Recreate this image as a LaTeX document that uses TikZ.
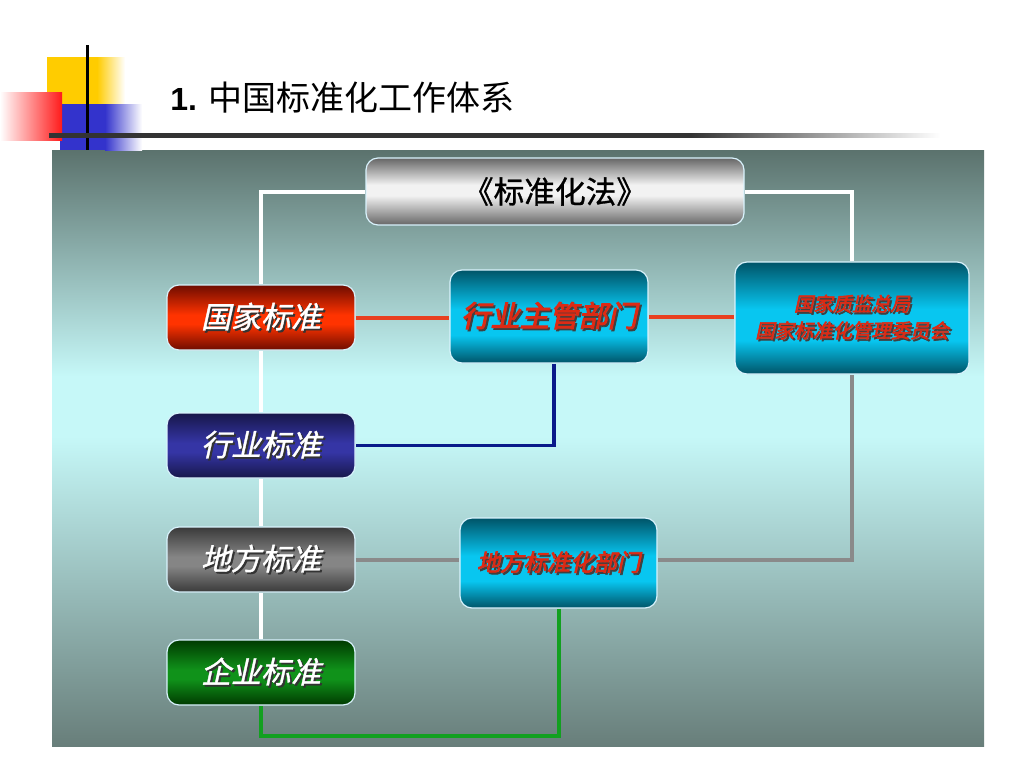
\documentclass[tikz,border=0pt]{standalone}
\usepackage{fontspec}
\newfontfamily\cjk{Noto Sans CJK SC}
\newfontfamily\cjkmb{Noto Sans CJK SC}[FakeBold=1]
\newfontfamily\cjkit{Noto Sans CJK SC}[FakeSlant=0.22, FakeBold=1.2]
\newfontfamily\cjkbi{Noto Sans CJK SC}[FakeSlant=0.22, FakeBold=3]
\newfontfamily\lat{Liberation Sans}
\usetikzlibrary{calc}
\definecolor{bgtop}{HTML}{5B726D}
\definecolor{bgmid}{HTML}{C6F8F8}
\definecolor{bgbot}{HTML}{687E7A}
\definecolor{tealdk}{HTML}{005468}
\definecolor{cyanbr}{HTML}{08C6F0}
\definecolor{reddk}{HTML}{6E0C00}
\definecolor{redbr}{HTML}{FF3300}
\definecolor{navydk}{HTML}{17174A}
\definecolor{navybr}{HTML}{3535A5}
\definecolor{graydk}{HTML}{3A3A3A}
\definecolor{graybr}{HTML}{858585}
\definecolor{greendk}{HTML}{003A00}
\definecolor{greenbr}{HTML}{10921A}
\definecolor{metdk}{HTML}{666666}
\definecolor{metbr}{HTML}{F2F2F2}
\definecolor{txtred}{HTML}{DC2A14}
\definecolor{lnred}{HTML}{E84020}
\definecolor{lnnavy}{HTML}{0A1A8A}
\definecolor{lngray}{HTML}{8A8A8A}
\definecolor{lngreen}{HTML}{12A020}
\definecolor{decoyel}{HTML}{FFCC00}
\definecolor{decoblue}{HTML}{3333CC}
\definecolor{decored}{HTML}{FF1A1A}
\definecolor{tline}{HTML}{333333}
% stops mapped into 25bp..75bp (the part that covers the path)
\pgfdeclareverticalshading{panelsh}{100bp}{color(0bp)=(bgbot); color(25bp)=(bgbot); color(51bp)=(bgmid); color(56bp)=(bgmid); color(75bp)=(bgtop); color(100bp)=(bgtop)}
\pgfdeclareverticalshading{cyansh}{100bp}{color(0bp)=(tealdk); color(25bp)=(tealdk); color(40bp)=(cyanbr); color(54bp)=(cyanbr); color(75bp)=(tealdk); color(100bp)=(tealdk)}
\pgfdeclareverticalshading{redsh}{100bp}{color(0bp)=(reddk); color(25bp)=(reddk); color(45bp)=(redbr); color(52bp)=(redbr); color(75bp)=(reddk); color(100bp)=(reddk)}
\pgfdeclareverticalshading{navysh}{100bp}{color(0bp)=(navydk); color(25bp)=(navydk); color(45bp)=(navybr); color(52bp)=(navybr); color(75bp)=(navydk); color(100bp)=(navydk)}
\pgfdeclareverticalshading{graysh}{100bp}{color(0bp)=(graydk); color(25bp)=(graydk); color(45bp)=(graybr); color(52bp)=(graybr); color(75bp)=(graydk); color(100bp)=(graydk)}
\pgfdeclareverticalshading{greensh}{100bp}{color(0bp)=(greendk); color(25bp)=(greendk); color(45bp)=(greenbr); color(52bp)=(greenbr); color(75bp)=(greendk); color(100bp)=(greendk)}
\pgfdeclareverticalshading{metsh}{100bp}{color(0bp)=(metdk); color(25bp)=(metdk); color(47bp)=(metbr); color(55bp)=(metbr); color(75bp)=(metdk); color(100bp)=(metdk)}
\pgfdeclarehorizontalshading{tlinesh}{100bp}{color(0bp)=(tline); color(25bp)=(tline); color(61bp)=(tline); color(75bp)=(white); color(100bp)=(white)}
\pgfdeclarelayer{bg}
\pgfdeclarelayer{lines}
\pgfsetlayers{bg,lines,main}
\newcommand{\shtext}[3]{\makebox[0pt][l]{\hspace{1.4pt}\raisebox{-1.4pt}{\color{#1}#3}}{\color{#2}#3}}
\tikzset{
  box/.style={rounded corners=9pt, draw=white!85!cyan, line width=0.9pt, inner sep=0pt, align=center},
  stdbox/.style={box, minimum width=141pt, minimum height=48.75pt, font=\cjkit\fontsize{22.5}{24}\selectfont},
  cyanbox/.style={box, shading=cyansh},
  wline/.style={draw=white, line width=3pt},
  rline/.style={draw=lnred, line width=3pt},
  nline/.style={draw=lnnavy, line width=2.6pt},
  gline/.style={draw=lngray, line width=3pt},
  grline/.style={draw=lngreen, line width=3pt}
}
\begin{document}
\begin{tikzpicture}[x=0.75pt,y=-0.75pt]
\useasboundingbox (0,0) rectangle (1024,768);
\begin{pgfonlayer}{bg}
\fill[white] (0,0) rectangle (1024,768);
\shade[shading=panelsh] (52,150) rectangle (984,746);
\end{pgfonlayer}
% decoration
\fill[decoyel] (47,57) rectangle (97,104);
\shade[left color=decoyel,right color=white] (97,57) rectangle (125,104);
\fill[decoblue] (60,104) rectangle (105,150);
\shade[left color=decoblue,right color=white] (105,104) rectangle (142,150);
\shade[left color=white,right color=decored] (0,92) rectangle (62,140);
\fill[black] (85.5,45) rectangle (89,150);
\shade[shading=tlinesh] (49,133) rectangle (940,137);
\node[anchor=west, inner sep=0pt] (title) at (170,98) {\lat\bfseries\fontsize{24}{28}\selectfont 1.\hspace{9pt}\cjk\mdseries\fontsize{25.5}{28}\selectfont 中国标准化工作体系};
% nodes
\node[box, shading=metsh, minimum width=283.5pt, minimum height=50.25pt, font=\cjkmb\fontsize{23}{26}\selectfont] (law) at (555,191.5) {\color{black}《标准化法》};
\node[stdbox, shading=redsh] (gj) at (261,317.5) {\shtext{black!80}{white}{国家标准}};
\node[stdbox, shading=navysh] (hy) at (261,445.5) {\shtext{black!80}{white}{行业标准}};
\node[stdbox, shading=graysh] (df) at (261,559.5) {\shtext{black!80}{white}{地方标准}};
\node[stdbox, shading=greensh] (qy) at (261,672.5) {\shtext{black!80}{white}{企业标准}};
\node[cyanbox, minimum width=148.5pt, minimum height=69.75pt, font=\cjkbi\fontsize{22}{24}\selectfont] (hyzg) at (549,316.5) {\shtext{black!75}{txtred}{行业主管部门}};
\node[cyanbox, minimum width=175.5pt, minimum height=84pt, font=\cjkbi\fontsize{14.5}{20}\selectfont] (zj) at (852,318) {\shtext{black!75}{txtred}{国家质监总局}\\\shtext{black!75}{txtred}{国家标准化管理委员会}};
\node[cyanbox, minimum width=147.75pt, minimum height=67.5pt, font=\cjkbi\fontsize{17.5}{20}\selectfont] (dfbz) at (558.5,563) {\shtext{black!75}{txtred}{地方标准化部门}};
\coordinate (gb) at (0,736);
% connectors
\begin{pgfonlayer}{lines}
\draw[wline] (law.west) -| (gj.north);
\draw[wline] (law.east) -| (zj.north);
\draw[wline] (gj.south) -- (hy.north);
\draw[wline] (hy.south) -- (df.north);
\draw[wline] (df.south) -- (qy.north);
\draw[rline] (gj.east) -- (gj.east -| hyzg.west);
\draw[rline] (hyzg.east) -- (hyzg.east -| zj.west);
\draw[nline] ([xshift=3.75pt]hyzg.south) |- (hy.east);
\draw[gline] (df.east) -- (df.east -| dfbz.west);
\draw[gline] (dfbz.east |- df.east) -| (zj.south);
\draw[grline] (dfbz.south) -- (dfbz.south |- gb) -| (qy.south);
\end{pgfonlayer}
\end{tikzpicture}
\end{document}
